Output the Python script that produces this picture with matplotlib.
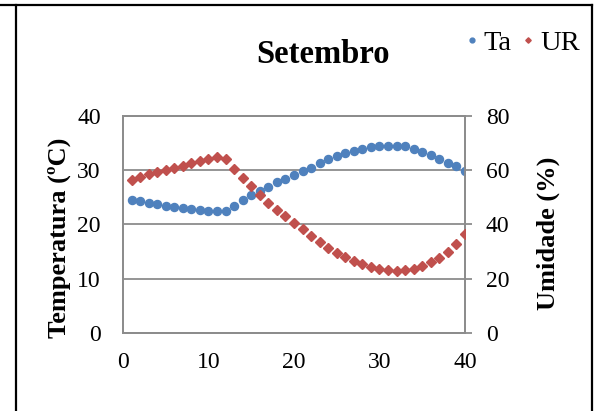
import numpy as np
import matplotlib
matplotlib.use("Agg")
import matplotlib.pyplot as plt
from matplotlib.lines import Line2D

# data (day of the month)
dias = list(range(1, 41))
ta = [24.6, 24.3, 23.9, 23.7, 23.5, 23.3, 23.1, 22.9, 22.7, 22.5,
      22.4, 22.5, 23.5, 24.6, 25.4, 26.2, 27.0, 27.8, 28.4, 29.1,
      29.9, 30.5, 31.3, 32.0, 32.6, 33.1, 33.5, 33.9, 34.2, 34.4,
      34.5, 34.5, 34.4, 34.0, 33.4, 32.8, 32.1, 31.4, 30.7, 29.9]
ur = [56.3, 57.4, 58.5, 59.5, 60.2, 60.8, 61.6, 62.6, 63.3, 64.0,
      64.8, 64.2, 60.5, 57.3, 54.1, 50.8, 47.9, 45.3, 43.0, 40.6,
      38.3, 35.8, 33.4, 31.3, 29.4, 27.9, 26.5, 25.4, 24.4, 23.7,
      23.2, 23.0, 23.1, 23.7, 24.7, 26.1, 27.8, 30.0, 32.8, 36.5]
temp_ticks = [0, 10, 20, 30, 40]
ur_ticks = [0, 20, 40, 60, 80]
x_ticks = [0, 10, 20, 30, 40]

plt.rcParams["font.family"] = ["Liberation Serif", "DejaVu Serif"]

fig = plt.figure(figsize=(5.99, 4.11), dpi=100)
ax = fig.add_axes([0.2053, 0.1898, 0.571, 0.528])
ax2 = ax.twinx()

grid_col = "#8c8c8c"
blue = "#4F81BD"
red = "#C0504D"

ax.plot(dias, ta, "o", color=blue, markersize=5.8, label="Ta", zorder=3)
ax2.plot(dias, ur, "D", color=red, markersize=4.6, label="UR", zorder=3)

ax.set_xlim(0, 40)
ax.set_ylim(0, 40)
ax2.set_ylim(0, 80)
ax.set_xticks(x_ticks)
ax.set_yticks(temp_ticks)
ax2.set_yticks(ur_ticks)

ax.yaxis.grid(True, color=grid_col, linewidth=1.3)
ax.set_axisbelow(True)
for a in (ax, ax2):
    for s in a.spines.values():
        s.set_color(grid_col)
        s.set_linewidth(1.3)
ax.tick_params(axis="x", length=0, pad=14, labelsize=17)
ax.tick_params(axis="y", length=0, pad=16, labelsize=17)
ax2.tick_params(axis="y", length=5, width=1.3, color=grid_col, pad=10, labelsize=17)

ax.set_ylabel("Temperatura (ºC)", fontsize=19, fontweight="bold")
ax.yaxis.set_label_coords(-0.152, 0.44)
ax2.set_ylabel("Umidade (%)", fontsize=19, fontweight="bold")
ax2.yaxis.set_label_coords(1.21, 0.46)

fig.text(0.54, 0.868, "Setembro", fontsize=23.5, fontweight="bold", ha="center", va="center")

h1, l1 = ax.get_legend_handles_labels()
h2, l2 = ax2.get_legend_handles_labels()
fig.legend(h1 + h2, l1 + l2, loc="center right", bbox_to_anchor=(0.987, 0.896),
           ncol=2, frameon=False, fontsize=20.5, handlelength=0.35, handletextpad=0.25,
           columnspacing=0.4, markerscale=0.6, borderaxespad=0)

# border lines around the cell
fig.add_artist(Line2D([0, 0.988], [0.988, 0.988], color="black", linewidth=1.6))
fig.add_artist(Line2D([0.0275, 0.0275], [0, 0.988], color="black", linewidth=1.6))
fig.add_artist(Line2D([0.9875, 0.9875], [0, 0.988], color="black", linewidth=1.6))

fig.savefig("out.png", dpi=100)
